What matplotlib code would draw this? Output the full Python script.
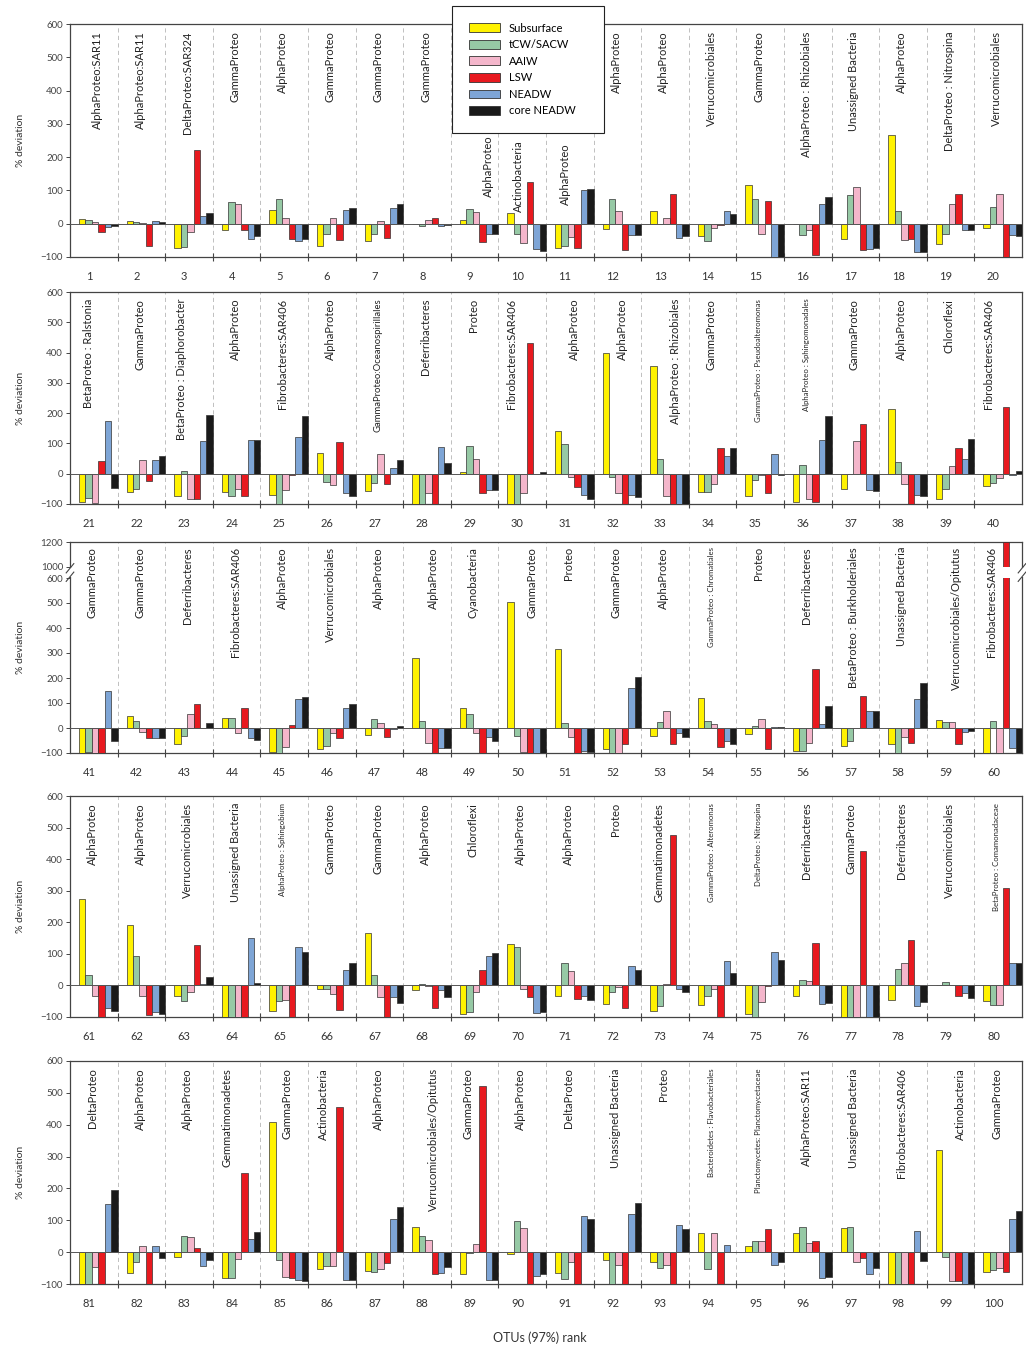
import numpy as np
import matplotlib
matplotlib.use('Agg')
import matplotlib.pyplot as plt
from matplotlib.patches import Patch, Rectangle

plt.rcParams['font.family'] = ['Lato', 'DejaVu Sans']

otu_rank = np.arange(1, 101)

taxa = [
    'AlphaProteo:SAR11', 'AlphaProteo:SAR11', 'DeltaProteo:SAR324', 'GammaProteo', 'AlphaProteo',
    'GammaProteo', 'GammaProteo', 'GammaProteo', 'AlphaProteo', 'Actinobacteria',
    'AlphaProteo', 'AlphaProteo', 'AlphaProteo', 'Verrucomicrobiales', 'GammaProteo',
    'AlphaProteo : Rhizobiales', 'Unassigned Bacteria', 'AlphaProteo', 'DeltaProteo : Nitrospina', 'Verrucomicrobiales',
    'BetaProteo : Ralstonia', 'GammaProteo', 'BetaProteo : Diaphorobacter', 'AlphaProteo', 'Fibrobacteres:SAR406',
    'AlphaProteo', 'GammaProteo:Oceanospirillales', 'Deferribacteres', 'Proteo', 'Fibrobacteres:SAR406',
    'AlphaProteo', 'AlphaProteo', 'AlphaProteo : Rhizobiales', 'GammaProteo', 'GammaProteo : Pseudoalteromonas',
    'AlphaProteo : Sphingomonadales', 'GammaProteo', 'AlphaProteo', 'Chloroflexi', 'Fibrobacteres:SAR406',
    'GammaProteo', 'GammaProteo', 'Deferribacteres', 'Fibrobacteres:SAR406', 'AlphaProteo',
    'Verrucomicrobiales', 'AlphaProteo', 'AlphaProteo', 'Cyanobacteria', 'GammaProteo',
    'Proteo', 'GammaProteo', 'AlphaProteo', 'GammaProteo : Chromatiales', 'Proteo',
    'Deferribacteres', 'BetaProteo : Burkholderiales', 'Unassigned Bacteria', 'Verrucomicrobiales/Opitutus', 'Fibrobacteres:SAR406',
    'AlphaProteo', 'AlphaProteo', 'Verrucomicrobiales', 'Unassigned Bacteria', 'AlphaProteo : Sphingobium',
    'GammaProteo', 'GammaProteo', 'AlphaProteo', 'Chloroflexi', 'AlphaProteo',
    'AlphaProteo', 'Proteo', 'Gemmatimonadetes', 'GammaProteo : Alteromonas', 'DeltaProteo : Nitrospina',
    'Deferribacteres', 'GammaProteo', 'Deferribacteres', 'Verrucomicrobiales', 'BetaProteo : Comamonadaceae',
    'DeltaProteo', 'AlphaProteo', 'AlphaProteo', 'Gemmatimonadetes', 'GammaProteo',
    'Actinobacteria', 'AlphaProteo', 'Verrucomicrobiales/Opitutus', 'GammaProteo', 'AlphaProteo',
    'DeltaProteo', 'Unassigned Bacteria', 'Proteo', 'Bacteroidetes : Flavobacteriales', 'Planctomycetes: Planctomycetaceae',
    'AlphaProteo:SAR11', 'Unassigned Bacteria', 'Fibrobacteres:SAR406', 'Actinobacteria', 'GammaProteo',
]

subsurface = [
    15, 8, -72, -20, 40, -68, -53, 0, 12, 33, -72, -17, 37, -37, 115, -2, -45, 268, -60, -13,
    -95, -62, -73, -60, -70, 70, -58, -100, 5, -100, 140, 400, 355, -60, -75, -95, -50, 215, -85, -40,
    -100, 50, -65, 40, -95, -82, -28, 280, 80, 505, 315, -85, -30, 122, -25, -90, -70, -62, 32, -100,
    275, 192, -35, -100, -80, -10, 165, -15, -90, 132, -32, -60, -80, -62, -92, -32, -100, -45, 0, -50,
    -100, -65, -15, -82, 410, -52, -58, 78, -68, -5, -65, -25, -32, 60, 20, 60, 75, -100, 320, -62,
]
tcw_sacw = [
    12, 4, -70, 65, 75, -32, -32, -6, 44, -30, -68, 73, -2, -52, 75, -33, 87, 38, -30, 50,
    -80, -50, 8, -75, -100, -28, -30, -100, 90, -100, 98, -10, 50, -60, -20, 30, 0, 40, -50, -30,
    -95, 28, -30, 40, -100, -70, 35, 28, 55, -30, 22, -100, 25, 28, 10, -90, -52, -100, 25, 28,
    32, 92, -48, -100, -50, -12, 32, 3, -85, 123, 72, -20, -65, -35, -100, 18, -100, 52, 12, -62,
    -100, -32, 52, -80, -25, -45, -62, 50, -2, 97, -85, -100, -50, -52, 35, 78, 78, -100, -15, -55,
]
aaiw = [
    5, 2, -25, 60, 18, 18, 8, 12, 34, -57, -40, 38, 18, -12, -32, -20, 110, -48, 60, 90,
    -97, 45, -85, -50, -55, -38, 65, -65, 48, -65, -10, -65, -75, -35, -5, -85, 108, -35, 25, -15,
    -100, -15, 58, -20, -75, -20, 20, -60, -20, -95, -35, -100, 70, 15, 37, -60, 0, -35, 25, -100,
    -35, -35, -22, -100, -45, -28, -38, -2, -22, -12, 45, -5, 5, -12, -52, 15, -100, 72, 0, -62,
    -48, 18, 48, -20, -78, -45, -52, 38, 25, 75, -30, -40, -40, 60, 35, 28, -32, -100, -90, -50,
]
lsw = [
    -25, -68, 222, -18, -46, -50, -42, 18, -56, 125, -72, -78, 88, -5, 68, -93, -78, -45, 90, -100,
    42, -25, -85, -75, -3, 105, -35, -100, -65, 430, -45, -100, -100, 85, -65, -95, 165, -100, 85, 220,
    -100, -38, 98, 80, 12, -40, -35, -100, -100, -100, -100, -65, -65, -75, -85, 235, 128, -58, -65, 1200,
    -100, -95, 128, -100, -100, -78, -100, -72, 48, -38, -42, -70, 475, -100, -2, 135, 425, 145, -32, 310,
    -100, -100, 12, 250, -82, 455, -35, -70, 520, -100, -100, -100, -100, -100, 72, 35, -18, -100, -90, -62,
]
neadw = [
    -10, 8, 24, -46, -52, 40, 48, -6, -30, -75, 100, -35, -42, 37, -100, 60, -75, -85, -20, -35,
    175, 45, 108, 112, 120, -65, 20, 88, -55, 0, -70, -70, -100, 60, 65, 110, -55, -70, 50, -5,
    150, -38, 0, -40, 118, 82, -5, -80, -35, -100, -90, 160, -20, -50, 3, 18, 70, 118, -15, -80,
    -70, -85, 5, 150, 122, 48, -38, -15, 92, -88, -35, 60, -12, 77, 105, -58, -100, -65, -25, 72,
    150, 18, -45, 42, -88, -88, 105, -65, -88, -75, 112, 120, 85, 22, -40, -80, -70, 65, -100, 105,
]
core_neadw = [
    -8, 5, 32, -38, -46, 48, 58, -5, -32, -82, 105, -35, -38, 30, -100, 80, -73, -85, -20, -38,
    -48, 60, 195, 110, 192, -72, 45, 37, -55, 5, -85, -78, -100, 85, -5, 190, -57, -75, 115, 8,
    -50, -40, 22, -48, 125, 95, 10, -80, -52, -100, -95, 205, -35, -65, 3, 87, 70, 180, -10, -100,
    -82, -92, 28, 8, 105, 72, -55, -38, 102, -85, -47, 48, -22, 40, 80, -55, -100, -52, -40, 72,
    195, -18, -25, 62, -92, -88, 142, -48, -88, -70, 105, 155, 72, 2, -30, -78, -50, -28, -100, 130,
]

series = [subsurface, tcw_sacw, aaiw, lsw, neadw, core_neadw]
nombres = ['Subsurface', 'tCW/SACW', 'AAIW', 'LSW', 'NEADW', 'core NEADW']
colores = ['#fff200', '#96c9a5', '#f4b6cb', '#e8191f', '#7ea5d6', '#1a1a1a']

# posicion de las etiquetas (fraccion del grupo / altura superior)
label_top = {9: 265, 10: 250, 11: 240}
label_x = {1: 0.58, 9: 0.8, 10: 0.42, 11: 0.4, 21: 0.38, 23: 0.35, 30: 0.27, 31: 0.6,
           32: 0.6, 33: 0.72, 40: 0.3, 48: 0.63, 50: 0.7, 59: 0.63, 60: 0.36, 73: 0.37,
           77: 0.4, 84: 0.3, 85: 0.55, 86: 0.33, 88: 0.63, 89: 0.36, 99: 0.7}
small_labels = {35, 36, 54, 65, 74, 75, 80, 94, 95}
medium_labels = {27}

W, H = 1026, 1349
X0, X1 = 70, 1022
panel_px = [(24, 257), (292, 504), (542, 753), (796, 1017), (1061, 1284)]
BW = 0.135


def fwd(y):
    y = np.asarray(y, float)
    return np.where(y <= 600, y,
                    np.where(y < 1000, 600 + (y - 600) * 0.11, 644 + (y - 1000) * 0.5))


def inv(z):
    z = np.asarray(z, float)
    return np.where(z <= 600, z,
                    np.where(z < 644, 600 + (z - 600) / 0.11, 1000 + (z - 644) / 0.5))


fig = plt.figure(figsize=(W / 100, H / 100), dpi=100)

for p, (top, bot) in enumerate(panel_px):
    ax = fig.add_axes([X0 / W, 1 - bot / H, (X1 - X0) / W, (bot - top) / H])
    sl = slice(20 * p, 20 * p + 20)
    xs = np.arange(20)
    conts = []
    for j, (vals, col) in enumerate(zip(series, colores)):
        v = np.array(vals[sl], float)
        c = ax.bar(xs + 0.19 + j * BW, v, width=BW, align='edge', color=col,
                   edgecolor='#333333', lw=0.5, zorder=3)
        conts.append(c)

    for k in range(1, 20):
        ax.axvline(k, color='#b5b5b5', ls=(0, (5, 4)), lw=0.6, zorder=1)
    ax.axhline(0, color='#555555', lw=0.7, zorder=4)

    if p == 2:
        ax.set_yscale('function', functions=(fwd, inv))
        ax.set_ylim(-100, 1200)
        ax.set_yticks([-100, 0, 100, 200, 300, 400, 500, 600, 1000, 1200])
        default_top = 1160
    else:
        ax.set_ylim(-100, 600)
        ax.set_yticks(np.arange(-100, 700, 100))
        default_top = 578

    for k in range(20):
        n = 20 * p + k + 1
        y = label_top.get(n, default_top)
        fs = 5.6 if n in small_labels else (6.8 if n in medium_labels else 8)
        ax.text(k + label_x.get(n, 0.47), y, taxa[n - 1], rotation=90, ha='center', va='top',
                fontsize=fs, color='#222222', zorder=5)

    ax.set_xlim(0, 20)
    ax.set_xticks(np.arange(1, 20))
    ax.set_xticklabels([])
    ax.tick_params(axis='x', which='major', direction='inout', length=6, width=0.8, color='#444444')
    ax.set_xticks(xs + 0.4, [str(n) for n in otu_rank[sl]], minor=True)
    ax.tick_params(axis='x', which='minor', length=0, pad=10, labelsize=8, labelcolor='#333333')
    ax.tick_params(axis='y', direction='out', length=3, width=0.7, labelsize=7,
                   labelcolor='#444444', color='#444444', pad=2)
    for s in ax.spines.values():
        s.set_color('#444444')
        s.set_linewidth(0.9)
    ax.set_ylabel('% deviation', fontsize=7.5, color='#333333')
    ax.yaxis.set_label_coords(-0.047, 0.5)

    if p == 2:
        # corte del eje y de la barra 60
        r = conts[3][-1]
        ax.add_patch(Rectangle((r.get_x() - 0.01, 606), r.get_width() + 0.02, 388,
                               facecolor='white', edgecolor='none', zorder=3.5))
        yb0, yb1 = (700 + 5) / 844, (744 - 5) / 844
        for xe in (0.0, 1.0):
            ax.add_patch(Rectangle((xe - 0.003, yb0), 0.006, yb1 - yb0, transform=ax.transAxes,
                                   facecolor='white', edgecolor='none', clip_on=False, zorder=6))
            for yc in (yb0, yb1):
                ax.plot([xe - 0.004, xe + 0.004], [yc - 0.022, yc + 0.022], transform=ax.transAxes,
                        color='#444444', lw=0.8, clip_on=False, zorder=7)

handles = [Patch(facecolor=c, edgecolor='#333333', lw=0.6) for c in colores]
leg = fig.legend(handles, nombres, loc='upper left',
                 bbox_to_anchor=(452 / W, 1 - 138 / H, 152 / W, 132 / H), mode='expand',
                 frameon=True, fancybox=False, edgecolor='#222222', framealpha=1,
                 fontsize=8, handlelength=2.8, handleheight=0.85, labelspacing=0.5,
                 handletextpad=0.8, borderpad=1.5, borderaxespad=0)
leg.get_frame().set_linewidth(0.8)

fig.text(540 / W, 1 - 1338 / H, 'OTUs (97%) rank', ha='center', va='center',
         fontsize=9, color='#333333')

fig.savefig('out.png', dpi=100)
